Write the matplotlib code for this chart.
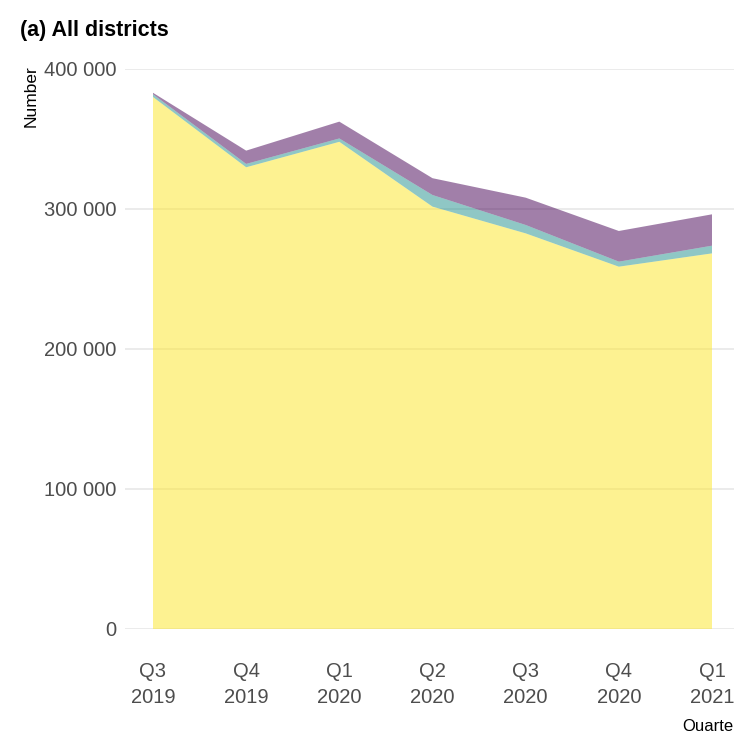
import matplotlib
matplotlib.use("Agg")
import matplotlib.pyplot as plt
import numpy as np

quarters = ["Q3\n2019", "Q4\n2019", "Q1\n2020", "Q2\n2020", "Q3\n2020", "Q4\n2020", "Q1\n2021"]
series_a = [380000, 329800, 348000, 301700, 282600, 258800, 268300]  # yellow (bottom)
series_b = [2000, 2400, 2400, 8300, 6000, 3600, 5500]                # teal (middle)
series_c = [1000, 9500, 12000, 12000, 19500, 21900, 22400]          # purple (top)
yticks = [0, 100000, 200000, 300000, 400000]
ytick_labels = ["0", "100 000", "200 000", "300 000", "400 000"]

colors = ["#FDE725", "#21908C", "#440154"]

W, H = 734, 731
fig = plt.figure(figsize=(W / 100, H / 100), dpi=100)
fig.patch.set_facecolor("white")

fam = ["Liberation Sans", "DejaVu Sans"]

left, right, bottom, top = 125, 734, 629, 69
ax = fig.add_axes([left / W, 1 - bottom / H, (right - left) / W, (bottom - top) / H])
ax.set_facecolor("white")

x = np.arange(len(quarters))
ax.stackplot(x, series_a, series_b, series_c, colors=colors, alpha=0.5, linewidth=0, zorder=2)

step = (712 - 153) / 6.0
ax.set_xlim(-(153 - left) / step, 6 + (right - 712) / step)
ax.set_ylim(0, 400000)

ax.set_yticks(yticks)
ax.set_yticklabels(ytick_labels)
ax.set_xticks(x)
ax.set_xticklabels(quarters, linespacing=1.45)

for s in ax.spines.values():
    s.set_visible(False)
ax.grid(axis="y", color="#EBEBEB", linewidth=1.4, zorder=0)
ax.grid(axis="x", visible=False)
ax.set_axisbelow(True)
ax.tick_params(axis="both", length=0, colors="#4D4D4D", labelsize=14.5)
ax.tick_params(axis="y", pad=6)
ax.tick_params(axis="x", pad=24)
for lab in ax.get_xticklabels() + ax.get_yticklabels():
    lab.set_family(fam)

fig.text(20 / W, 1 - 36 / H, "(a) All districts", fontsize=15.5, fontweight="bold",
         family=fam, ha="left", va="baseline", color="black")
fig.text(31 / W, 1 - 96 / H, "Number", fontsize=12.5, rotation=90, family=fam,
         ha="center", va="center", color="black")
fig.text(682 / W, 1 - 731 / H, "Quarter", fontsize=12, family=fam,
         ha="left", va="baseline", color="black")

fig.savefig("out.png", dpi=100, facecolor="white")
